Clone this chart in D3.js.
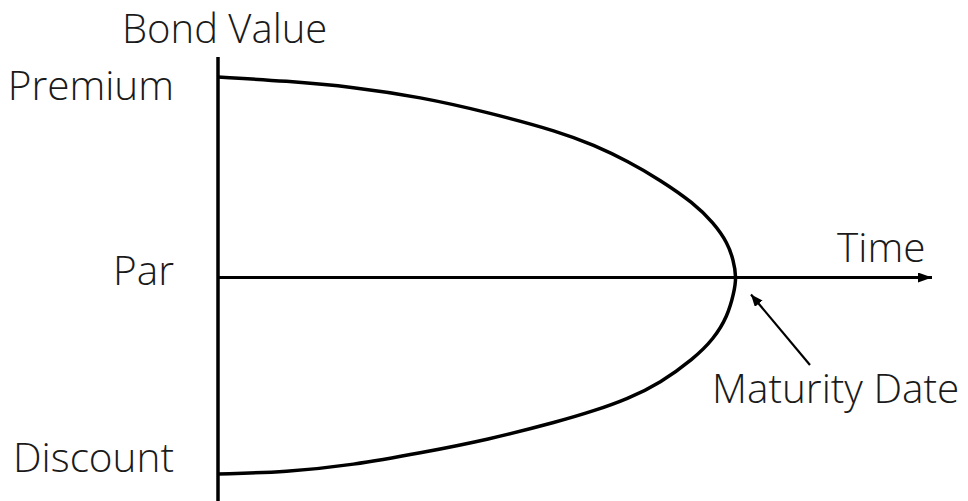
<!DOCTYPE html>
<html>
<head>
<meta charset="utf-8">
<script src="https://cdn.jsdelivr.net/npm/d3@7"></script>
<style>
  html, body { margin: 0; padding: 0; background: #fff; }
  svg { display: block; }
  text { font-family: "Open Sans", "Noto Sans", sans-serif; font-weight: 300; fill: #1a1a1a; }
</style>
</head>
<body>
<svg id="chart" width="968" height="501"></svg>
<script>
// ---- data (time as % of life to maturity, value as % of par) ----
const premiumTime  = [0, 13.3, 26.1, 39.0, 51.9, 66.0, 72.4, 79.0, 85.3, 91.7, 95.6, 98.3, 99.4, 100];
const premiumValue = [110, 109.80, 109.50, 109.00, 108.25, 107.26, 106.61, 105.81, 104.86, 103.72, 102.72, 101.72, 100.87, 100];
const discountTime  = [100, 99.5, 98.3, 95.6, 91.7, 85.3, 79.0, 72.4, 66.0, 51.9, 39.0, 26.1, 13.3, 0];
const discountValue = [100, 99.23, 98.08, 96.93, 95.94, 94.74, 93.94, 93.34, 92.84, 91.90, 91.25, 90.65, 90.30, 90.20];
const tickValues = [110, 100, 90.2];
const tickLabels = ["Premium", "Par", "Discount"];
const axisTitles = ["Bond Value", "Time"];
const maturityLabel = "Maturity Date";
const maturityPoint = [100, 100];

// ---- layout ----
const svg = d3.select("#chart");
const x = d3.scaleLinear().domain([0, 100]).range([218, 736.5]);
const y = d3.scaleLinear().domain([90.2, 110]).range([474, 77]);
const fontSize = 40.5;

const defs = svg.append("defs");
defs.append("marker").attr("id", "axisArrow")
  .attr("viewBox", "0 0 14 10").attr("refX", 14).attr("refY", 5)
  .attr("markerWidth", 14).attr("markerHeight", 10).attr("markerUnits", "userSpaceOnUse")
  .attr("orient", "auto")
  .append("path").attr("d", "M0,0 L14,5 L0,10 Z").attr("fill", "#000");
defs.append("marker").attr("id", "smallArrow")
  .attr("viewBox", "0 0 12 10").attr("refX", 12).attr("refY", 5)
  .attr("markerWidth", 12).attr("markerHeight", 10).attr("markerUnits", "userSpaceOnUse")
  .attr("orient", "auto")
  .append("path").attr("d", "M0,0 L12,5 L0,10 Z").attr("fill", "#000");

// vertical axis
svg.append("line")
  .attr("x1", x(0)).attr("x2", x(0))
  .attr("y1", 57).attr("y2", 501)
  .attr("stroke", "#000").attr("stroke-width", 3.5);

// horizontal axis (par line) with arrow
svg.append("line")
  .attr("x1", x(0)).attr("x2", 932)
  .attr("y1", y(100)).attr("y2", y(100))
  .attr("stroke", "#000").attr("stroke-width", 2.8)
  .attr("marker-end", "url(#axisArrow)");

// curve: premium path through maturity down to discount
const pts = premiumTime.map((t, i) => [t, premiumValue[i]])
  .concat(discountTime.slice(1).map((t, i) => [t, discountValue[i + 1]]));
const line = d3.line()
  .x(d => x(d[0])).y(d => y(d[1]))
  .curve(d3.curveBasis);
svg.append("path").datum(pts)
  .attr("d", line)
  .attr("fill", "none").attr("stroke", "#000").attr("stroke-width", 3.5)
  .attr("stroke-linejoin", "round");

// y labels
const labelDy = [23, 7, -2];
svg.selectAll("text.ylab").data(tickValues).enter().append("text")
  .attr("class", "ylab")
  .attr("x", 174).attr("y", (d, i) => y(d) + labelDy[i])
  .attr("text-anchor", "end").attr("font-size", fontSize)
  .text((d, i) => tickLabels[i]);

// axis titles
svg.append("text").attr("x", 122).attr("y", 43).attr("font-size", 40).text(axisTitles[0]);
svg.append("text").attr("x", 837).attr("y", 262).attr("font-size", fontSize).text(axisTitles[1]);

// maturity annotation
svg.append("line")
  .attr("x1", 810).attr("y1", 365)
  .attr("x2", 751).attr("y2", y(maturityPoint[1]) + 17)
  .attr("stroke", "#000").attr("stroke-width", 2.2)
  .attr("marker-end", "url(#smallArrow)");
svg.append("text").attr("x", 712).attr("y", 403).attr("font-size", fontSize).text(maturityLabel);
</script>
</body>
</html>
